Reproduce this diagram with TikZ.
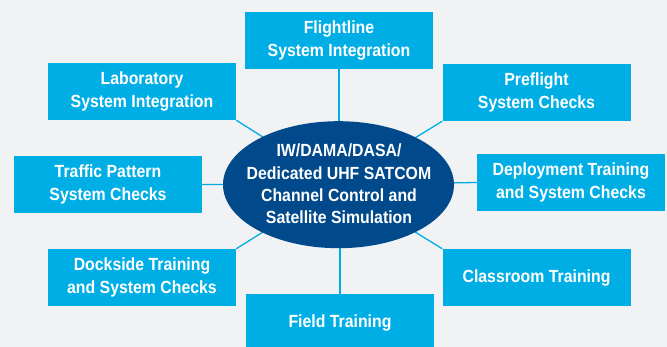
\documentclass[tikz,border=0pt]{standalone}
\usepackage{fontspec}
\setmainfont{Liberation Sans}[FakeStretch=0.9]
\definecolor{bgc}{HTML}{F1F2F4}
\definecolor{boxc}{HTML}{00AEE6}
\definecolor{hubc}{HTML}{004A8C}
\begin{document}
\begin{tikzpicture}[x=1pt,y=-1pt,
  lbl/.style={font=\fontsize{17.6}{22.4}\selectfont\bfseries, text=white, align=center},
  bx/.style={lbl, fill=boxc, minimum width=188pt, minimum height=57pt, inner sep=0pt},
  hubstyle/.style={lbl, inner sep=0pt},
  conn/.style={draw=boxc, line width=1.3pt}]
\fill[bgc] (0,0) rectangle (667,347);
\useasboundingbox (0,0) rectangle (667,347);
\coordinate (hc) at (338.5,184.7);
\node[bx] (flight) at (339,40.3) {Flightline\\System Integration};
\node[bx] (lab) at (142,91.5) {Laboratory\\System Integration};
\node[bx] (pre) at (536.5,92.5) {Preflight\\System Checks};
\node[bx] (traffic) at (108,184.5) {Traffic Pattern\\System Checks};
\node[bx] (deploy) at (571,182.5) {Deployment Training\\and System Checks};
\node[bx] (dock) at (142,277.5) {Dockside Training\\and System Checks};
\node[bx] (class) at (536.5,277.5) {Classroom Training};
\node[bx] (field) at (340,323) {Field Training};
\draw[conn] (flight.south) -- (flight.south |- hc);
\draw[conn] (lab.south east) -- (hc);
\draw[conn] (pre.south west) -- (hc);
\draw[conn] (traffic.east) -- (hc);
\draw[conn] (deploy.west) -- (hc);
\draw[conn] (dock.north east) -- (hc);
\draw[conn] (class.north west) -- (hc);
\draw[conn] (field.north) -- (field.north |- hc);
\fill[hubc] (hc) ellipse [x radius=115.5pt, y radius=63.5pt];
\node[hubstyle] (hub) at (339,184) {IW/DAMA/DASA/\\Dedicated UHF SATCOM\\Channel Control and\\Satellite Simulation};
\end{tikzpicture}
\end{document}
